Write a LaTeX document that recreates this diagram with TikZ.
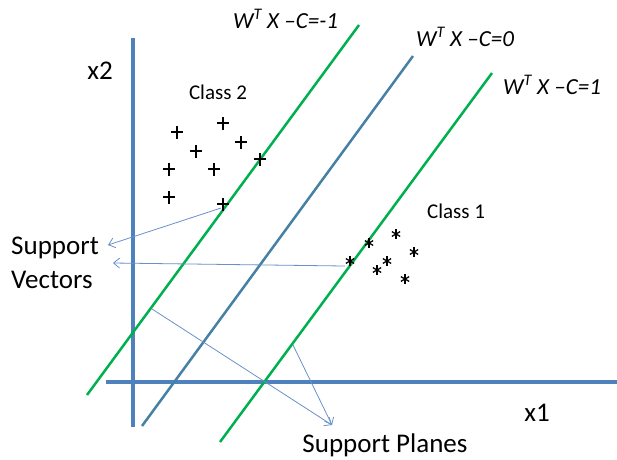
\documentclass[tikz,border=0pt]{standalone}
\usepackage{fontspec}
\setmainfont{Carlito}
\usetikzlibrary{arrows.meta}
\definecolor{axisblue}{RGB}{79,129,189}
\definecolor{planegreen}{RGB}{0,176,80}
\definecolor{hyperblue}{RGB}{70,128,165}
\definecolor{pointerblue}{RGB}{105,145,200}

\begin{document}
\begin{tikzpicture}[x=1pt,y=-1pt,
        axis/.style={axisblue,line width=3.5pt},
        plane/.style={planegreen,line width=2.5pt},
        hyper/.style={hyperblue,line width=2.5pt},
        pointer/.style={pointerblue,line width=0.8pt,-{Straight Barb[length=6pt,width=10pt]}},
        bigtext/.style={inner sep=0pt,font=\fontsize{27}{34}\selectfont},
        classtext/.style={inner sep=0pt,font=\fontsize{21}{25}\selectfont},
        eqtext/.style={inner sep=0pt,anchor=west,font=\fontsize{23}{26}\selectfont\itshape}]
    \useasboundingbox (0,0) rectangle (617,459);
    % axes
    \coordinate (ytop) at (133,38); \coordinate (ybot) at (133,427);
    \coordinate (xleft) at (106,382); \coordinate (xright) at (617,382);
    \draw[axis] (ybot) -- (ytop);
    \draw[axis] (xleft) -- (xright);
    \node[bigtext] (x2) at (100,71) {x2};
    \node[bigtext] (x1) at (537,413) {x1};
    % the three planes
    \coordinate (mA) at (87,395); \coordinate (mB) at (359,25);
    \coordinate (zA) at (142,426); \coordinate (zB) at (413,56);
    \coordinate (pA) at (220,442); \coordinate (pB) at (492,73);
    \draw[plane] (mA) -- (mB);
    \draw[hyper] (zA) -- (zB);
    \draw[plane] (pA) -- (pB);
    \node[eqtext] (eqm) at (233,19) {W\textsuperscript{T} X –C=-1};
    \node[eqtext] (eqz) at (416,37) {W\textsuperscript{T} X –C=0};
    \node[eqtext] (eqp) at (503,85) {W\textsuperscript{T} X –C=1};
    % class 2 points
    \foreach \x/\y [count=\i] in {177/132,223/123,241/142,196/151,260/159,169/169,214/169,169/197,223/204}
        \coordinate (c2p\i) at (\x,\y);
    \foreach \i in {1,...,9}
        \draw[line width=1.8pt] ([xshift=-6pt]c2p\i) -- ([xshift=6pt]c2p\i)
            ([yshift=-6.5pt]c2p\i) -- ([yshift=6.5pt]c2p\i);
    % class 1 points
    \foreach \x/\y [count=\i] in {396/234,369/243,414/252,350/261,387/261,377/270,405/279}
        \coordinate (c1p\i) at (\x,\y);
    \foreach \i in {1,...,7}
        \foreach \a in {90,30,150}
            \draw[line width=1.3pt] (c1p\i) ++(\a:4.8) -- ++(\a+180:9.6);
    \node[classtext] (cl2) at (218,92) {Class 2};
    \node[classtext] (cl1) at (456,211) {Class 1};
    % labels and pointers
    \node[bigtext,anchor=west,align=left] (sv) at (11,263) {Support\\Vectors};
    \node[bigtext] (sp) at (385,445) {Support Planes};
    \coordinate (svtipA) at (108,245); \coordinate (svtipB) at (113,263);
    \coordinate (mfoot) at (152,309); \coordinate (pfoot) at (293,345);
    \coordinate (sptip) at (332,425);
    \draw[pointer] ([shift={(-2,4)}]c2p9) -- (svtipA);
    \draw[pointer] ([shift={(-5,5)}]c1p4) -- (svtipB);
    \draw[pointer] (mfoot) -- (sptip);
    \draw[pointer] (pfoot) -- (sptip);
\end{tikzpicture}
\end{document}
